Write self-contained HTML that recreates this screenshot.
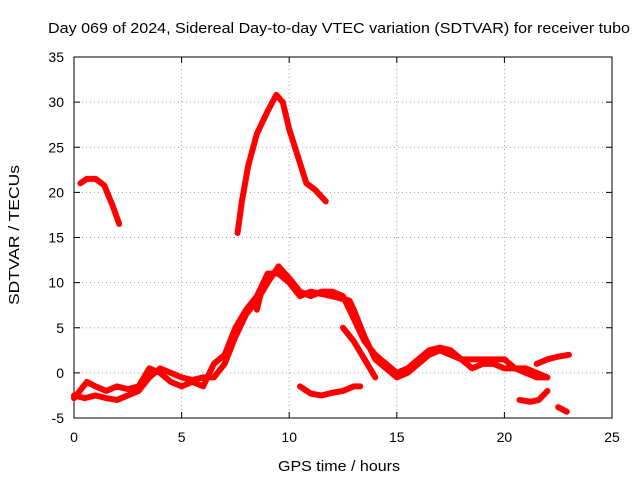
<!DOCTYPE html>
<html><head><meta charset="utf-8"><style>
body{margin:0;background:#fff;}
svg{display:block;font-family:"Liberation Sans",sans-serif;}
</style></head><body>
<svg id="c" width="640" height="480"></svg>
<script>
const xTicks=[0,5,10,15,20,25];
const yTicks=[-5,0,5,10,15,20,25,30,35];
const seriesEarly=[[0.3,21],[0.6,21.5],[1,21.5],[1.4,20.8],[1.8,18.5],[2.1,16.5]];
const seriesPeak=[[7.6,15.5],[7.8,19],[8.1,23],[8.5,26.5],[9,29],[9.4,30.8],[9.7,30],[10,27],[10.4,24],[10.8,21],[11.2,20.3],[11.7,19]];
const seriesA=[[0,-2.5],[0.5,-2.8],[1,-2.5],[1.5,-2.8],[2,-3],[2.5,-2.5],[3,-2],[3.5,-0.5],[4,0.5],[4.5,0],[5,-0.5],[5.5,-0.8],[6,-0.5],[6.5,-0.5],[7,1],[7.5,4],[8,6.5],[8.5,8],[9,10],[9.5,11.8],[10,10.5],[10.5,9],[11,8.5],[11.5,9],[12,9],[12.5,8.5],[13,6],[13.5,3.5],[14,2],[14.5,1],[15,0],[15.5,0.5],[16,1.5],[16.5,2.5],[17,2.8],[17.5,2.5],[18,1.5],[18.5,1.5],[19,1.5],[19.5,1.5],[20,1.5],[20.5,0.5],[21,0],[21.5,-0.5],[22,-0.5]];
const seriesB=[[0,-2.8],[0.6,-1],[1,-1.5],[1.5,-2],[2,-1.5],[2.5,-1.8],[3,-1.5],[3.5,0.5],[4,0],[4.5,-1],[5,-1.5],[5.5,-1],[6,-1.5],[6.5,1],[7,2],[7.5,5],[8,7],[8.5,8.5],[9,11],[9.5,11],[10,10],[10.5,8.5],[11,9],[12,8.5],[12.8,8],[13,7],[13.5,4],[14,1.5],[14.5,0.5],[15,-0.5],[15.5,0],[16,1],[16.5,2],[17,2.5],[17.5,2],[18,1.5],[18.5,0.5],[19,1],[19.5,1],[20,0.5],[20.5,0.5],[21,0.5],[21.5,0],[22,-0.5]];
const seriesC=[[12.5,5],[13,3.5],[13.5,1.5],[14,-0.5]];
const seriesD=[[10.5,-1.5],[11,-2.3],[11.5,-2.5],[12,-2.2],[12.5,-2],[13,-1.5],[13.3,-1.5]];
const seriesE=[[8.5,7],[8.7,9],[9,10]];
const seriesF=[[21.5,1],[22,1.5],[22.5,1.8],[23,2]];
const seriesG=[[20.7,-3],[21.2,-3.2],[21.6,-3],[22,-2]];
const seriesH=[[22.5,-3.8],[22.9,-4.3]];
const allSeries=[seriesEarly,seriesPeak,seriesA,seriesB,seriesC,seriesD,seriesE,seriesF,seriesG,seriesH];
const NS="http://www.w3.org/2000/svg";
const svg=document.getElementById('c');
const X0=74,X1=612,Y0=418,Y1=57;
const sx=v=>X0+(v-0)/25*(X1-X0);
const sy=v=>Y0-(v+5)/40*(Y0-Y1);
function mk(t,a){const e=document.createElementNS(NS,t);for(const k in a)e.setAttribute(k,a[k]);svg.appendChild(e);return e;}
xTicks.forEach(t=>{
 const g=mk('line',{x1:sx(t),x2:sx(t),y1:Y1,y2:Y0,stroke:'#a0a0a0','stroke-dasharray':'1,3'});
 
 
 const l=mk('text',{x:sx(t),y:Y0+24,'text-anchor':'middle','font-size':14});l.textContent=t;
 
 
 mk('line',{x1:sx(t),x2:sx(t),y1:Y0,y2:Y0-6,stroke:'#000'});
 mk('line',{x1:sx(t),x2:sx(t),y1:Y1,y2:Y1+6,stroke:'#000'});
});
yTicks.forEach(t=>{
 const g=mk('line',{x1:X0,x2:X1,y1:sy(t),y2:sy(t),stroke:'#a0a0a0','stroke-dasharray':'1,3'});
 
 
 const l=mk('text',{x:X0-10,y:sy(t)+5,'text-anchor':'end','font-size':14});l.textContent=t;
 
 
 mk('line',{x1:X0,x2:X0+6,y1:sy(t),y2:sy(t),stroke:'#000'});
 mk('line',{x1:X1,x2:X1-6,y1:sy(t),y2:sy(t),stroke:'#000'});
});
const fr=mk('rect',{x:X0,y:Y1,width:X1-X0,height:Y0-Y1,fill:'none',stroke:'#000'});


allSeries.forEach(s=>{
 const p=mk('polyline',{points:s.map(d=>sx(d[0])+','+sy(d[1])).join(' '),fill:'none',stroke:'#ff0000','stroke-width':6,'stroke-linejoin':'round','stroke-linecap':'round'});
 
 
});
const t=mk('text',{x:48,y:33,'font-size':15,textLength:582,lengthAdjust:'spacingAndGlyphs'});t.textContent='Day 069 of 2024, Sidereal Day-to-day VTEC variation (SDTVAR) for receiver tubo';


const xl=mk('text',{x:278,y:471,'font-size':15,textLength:122,lengthAdjust:'spacingAndGlyphs'});xl.textContent='GPS time / hours';


const yl=mk('text',{x:19,y:305,'font-size':15,textLength:140,lengthAdjust:'spacingAndGlyphs',transform:'rotate(-90 19 305)'});yl.textContent='SDTVAR / TECUs';


</script>
</body></html>
